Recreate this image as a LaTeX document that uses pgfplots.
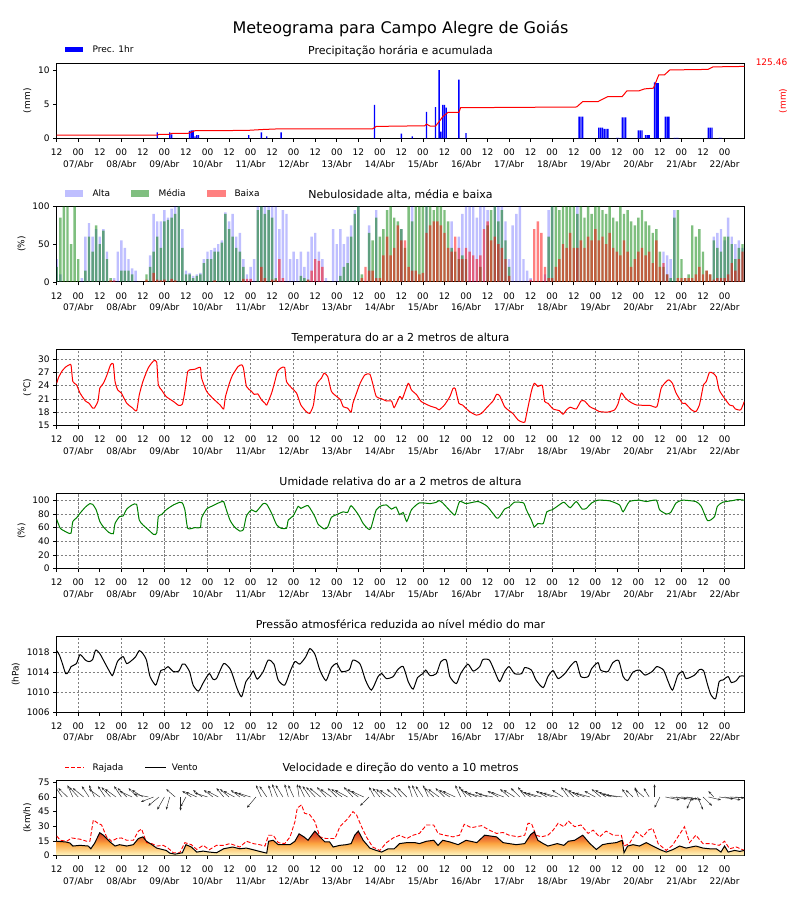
\documentclass[border=0pt]{standalone}
\usepackage{fontspec}
\setmainfont{DejaVu Sans}
\usepackage{pgfplots}
\pgfplotsset{compat=1.18}
\usepackage{pgfplotstable}
\usetikzlibrary{arrows.meta}

\definecolor{cAlta}{RGB}{191,191,255}
\definecolor{cMedia}{RGB}{128,191,128}
\definecolor{cBaixa}{RGB}{255,128,128}
\definecolor{umid}{RGB}{0,128,0}
\definecolor{wTop}{RGB}{210,35,30}
\definecolor{wMid}{RGB}{252,165,65}
\definecolor{wBot}{RGB}{255,248,195}

% hours since 06/Abr 12h
\pgfplotstableread{
h mm
56 0.9
63 0.9
64 0.6
74 1.1
75 1.2
76 1.2
77 0.3
78 0.5
79 0.5
107 0.5
114 0.9
117 0.3
125 0.9
177 4.9
192 0.7
198 0.3
206 3.9
211 4.6
213 10.0
214 1.0
215 4.9
216 4.9
217 4.5
224 8.6
228 0.8
291 3.2
292 3.2
293 3.2
302 1.6
303 1.6
304 1.6
305 1.4
306 1.4
307 1.4
312 0.1
313 0.1
315 3.1
316 3.1
317 3.1
324 1.2
325 1.2
326 1.2
328 0.5
329 0.5
330 0.5
333 8.2
334 8.1
335 8.1
339 3.2
340 3.2
341 3.2
344 0.1
345 0.1
346 0.1
363 1.6
364 1.6
365 1.6
369 0.1
370 0.1
}\prec

\pgfplotstableread{
h acc
0 0
56 0
57 1.1
63 1.5
64 3.0
73 3.0
77 7.9
106 8.5
115 10.2
125 11.5
176 11.5
178 15.8
205 17.0
206 20.0
208 16.4
211 16.4
213.7 27.5
215 33.6
218 41.5
224 41.5
225 50.0
289.6 51.3
293 61.2
301.5 61.2
307 70.4
315 70.4
317.6 80.8
324.3 80.8
327.4 84.4
332.4 85.7
335.4 110.2
338.6 110.2
341.5 119.0
362.7 120.0
365.6 124.6
383 125.46
}\acum

\pgfplotstableread{
h A M B
0 30 20 0
2 10 85 0
4 0 100 0
6 0 100 0
8 0 50 0
10 0 100 0
12 0 30 0
14 5 0 0
16 60 15 0
18 78 60 0
20 60 40 0
22 70 75 0
24 60 50 0
26 70 68 0
28 40 30 0
30 0 5 2
32 5 0 2
34 40 0 0
36 55 15 0
38 45 15 0
40 30 15 0
42 18 10 0
44 15 0 0
46 0 0 0
48 0 0 0
50 0 10 3
52 35 20 0
54 90 40 12
56 80 60 3
58 80 45 2
60 95 80 3
62 85 82 0
64 97 85 4
66 100 90 2
68 100 100 0
70 70 45 0
72 15 10 0
74 12 10 0
76 8 5 0
78 10 8 0
80 12 10 0
82 30 25 0
84 40 30 0
86 42 30 0
88 45 40 2
90 50 40 0
92 55 52 0
94 92 90 0
96 80 70 0
98 90 60 0
100 60 45 0
102 65 40 0
104 30 20 4
106 10 0 4
108 20 0 4
110 30 0 0
112 100 95 0
114 100 100 20
116 100 90 5
118 100 95 0
120 100 85 3
122 100 5 3
124 70 0 30
126 95 0 5
128 90 0 0
130 30 0 0
132 40 0 0
134 30 0 0
136 40 8 0
138 20 5 0
140 40 3 3
142 60 0 15
144 65 0 30
146 40 0 28
148 30 0 20
150 5 0 0
152 0 0 0
154 70 0 0
156 50 0 0
158 70 8 0
160 50 20 0
162 60 25 0
164 75 60 0
166 95 90 0
168 100 100 0
170 0 10 5
172 0 0 20
174 75 65 15
176 0 55 15
178 95 85 5
180 0 60 5
182 0 70 35
184 0 95 60
186 0 100 35
188 0 85 45
190 0 80 75
192 70 70 55
194 0 45 55
196 0 100 20
198 100 80 15
200 0 100 15
202 0 100 10
204 0 100 12
206 100 100 65
208 0 100 75
210 0 95 80
212 0 100 80
214 0 100 75
216 0 95 65
218 0 80 45
220 80 45 40
222 0 40 60
224 60 30 45
226 90 35 30
228 100 30 45
230 100 0 40
232 100 0 35
234 85 0 30
236 100 20 35
238 100 0 70
240 95 75 80
242 0 95 55
244 100 100 60
246 100 80 50
248 100 95 45
250 80 55 30
252 30 20 8
254 75 0 0
256 90 0 0
258 100 0 0
260 30 0 0
262 15 0 0
264 5 0 3
266 0 0 70
268 0 0 80
270 0 0 65
272 10 0 20
274 95 60 5
276 100 100 5
278 0 100 20
280 0 95 30
282 0 100 50
284 0 100 45
286 0 100 65
288 0 100 45
290 100 90 45
292 0 100 55
294 0 85 45
296 0 100 60
298 0 90 55
300 0 100 70
302 0 100 55
304 0 95 60
306 0 90 50
308 0 100 65
310 0 85 45
312 0 80 40
314 0 100 35
316 0 90 55
318 0 95 40
320 0 80 20
322 0 75 30
324 0 85 40
326 0 95 45
328 0 80 35
330 0 75 40
332 0 65 25
334 0 70 55
336 0 40 20
338 40 20 25
340 35 10 10
342 30 5 0
344 95 85 0
346 0 95 5
348 0 30 5
350 0 5 5
352 0 10 5
354 0 75 5
356 0 60 10
358 0 70 20
360 0 40 10
362 0 15 15
364 0 10 10
366 60 55 3
368 65 45 5
370 70 40 5
372 55 60 5
374 85 60 10
376 60 50 25
378 50 30 15
380 55 45 30
382 45 50 40
}\nuvem

\pgfplotstableread{
h T
0 24.5
1 25.8
3 27.3
5 28.2
7 28.7
8 28.6
9 24.9
11 24.2
13 22.3
16 20.5
18 20.0
20 18.9
21 18.9
23 20.5
24 23.4
26 24.5
28 26.4
30 28.7
31.5 28.9
32.5 24.9
34 23.0
36 22.3
39 20.0
42 19.0
44.5 18.3
46 21.9
48 24.9
51 28.0
54 29.6
55.7 29.3
56.6 24.2
58.4 23.0
61 21.5
65 20.4
68 19.5
70 19.8
71.4 22.7
73 27.2
75 27.6
77 27.7
80 28.1
80.7 25.7
83.5 22.7
87 21.1
91 19.6
93 18.7
94 21.5
96.5 24.9
98 26.4
101 28.3
103 28.7
104 28.0
105.7 23.8
108.5 22.7
110 22.0
112 22.1
114 20.8
116 20.0
117 19.6
119.7 22.3
121.5 24.9
123 27.2
125 28.0
127 28.1
128 24.9
131 23.4
133.6 22.3
136 19.6
139 18.1
141 17.7
143 19.6
144.7 24.2
147.5 25.7
149 26.8
151 26.0
153 22.7
156 21.5
158 20.8
159.6 19.2
162 18.9
164 18.0
165 20.0
167 22.3
169 24.5
171.6 26.4
174.4 26.6
176 24.5
178 21.5
181 21.0
183.7 20.5
186.5 20.5
188 19.0
191 21.5
192.6 21.1
195.8 24.5
197.6 23.0
200.5 21.9
203 20.4
207.8 19.4
211.5 18.9
213 18.5
216 19.6
219 21.5
220.7 23.3
222 23.3
224 20.0
226 19.6
230 18.1
233.8 17.3
236.6 17.7
240 19.2
243 20.5
245 22.0
246.7 21.7
249.5 19.2
252 18.3
254 17.7
257 16.2
258.8 15.8
260.7 15.7
261.6 17.3
264.4 22.7
266 24.5
268 23.8
270.5 24.0
271.8 20.4
273.6 20.0
276.5 18.7
280 18.3
282 17.5
284 18.5
286 19.1
289.4 18.7
292 20.5
294 20.5
297 19.2
299.6 18.7
302.4 18.1
307 18.0
310.8 18.5
312.6 19.8
314.5 22.3
316.5 21.3
319 20.4
323 19.6
330.4 19.5
334.3 19.2
336.7 23.4
339.5 24.9
341 25.3
343 24.5
345 22.3
348.5 20.0
350 20.0
353.6 18.5
356 18.1
358 19.6
360.3 24.2
361.8 24.9
363.6 27.0
365.5 26.8
367.4 26.0
369 23.0
372 21.1
374.8 19.6
376.7 19.4
378 18.7
381 18.5
383 20.4
}\temp

\pgfplotstableread{
h U
0 72
2 59
5 54
6.5 52
8 52
9 69
11 74
13 81
16 90
18.5 95
20 94
22 86
24 69
26 61
29 53
31.5 51
32.5 66
35 76
37 77
39 87
42 93
44.5 94
46 71
48 64
51 57
54 50
55.7 52
56.6 76
58.4 79
61 86
65 93
68.6 97
70 96
71.4 86
73 59
77 60
80 60
80.7 74
83.5 87
87 92
91 97
93 98
94 90
96.5 71
99 61
102 55
104 57
105.7 77
108.5 86
111 83
115 95
117 94
119.7 81
122.5 64
125 59
128 59
129 71
131.7 77
134.5 91
136 88
140 92
143.8 76
145.6 65
149 58
151 61
153 75
156 79
159.6 83
162 82
164 92
168 79
170.7 66
173.5 58
175 59
178 86
181 92
183.7 93
186.5 87
189 90
191 79
193 82
195 69
197.6 86
202 96
208 95
211.5 97
213 99.5
215 96
220.7 80
222 79
224.4 98
228 95
234.7 98
239.8 91
245 74
246.7 76
249.5 87
252 90
255 97
260 96
261.6 86
264.4 71
266 61
268 66
271 66
273 83
276 86
278.8 91
282.5 97
286 89
289.4 98
292.7 87
295 88
298 96
301.5 100
308 99
313.5 93
315.5 83
319 98
324.6 100
328.4 98
334 100
335.8 86
339.5 80
342 82
345 96
348.7 100
356 98
359 91
362.6 70
366.4 76
368 91
371 97
376.7 99.5
379.5 101
383 100
}\umid

\pgfplotstableread{
h P
0 1018.3
1.5 1017.4
3 1015.9
5 1013.7
6.5 1014.0
8 1015.1
11 1015.7
13 1017.5
16 1016.4
18 1016.1
20 1016.5
21.7 1018.4
24 1017.7
26 1016.4
29 1014.4
31 1013.3
32.5 1014.7
34 1016.2
37 1017.1
39 1015.7
42 1016.4
44 1017.1
46 1018.3
48 1017.7
50 1016.4
52 1013.1
55 1011.4
56 1012.1
58 1014.3
60 1014.5
62 1015.1
65 1014.1
68 1014.2
70 1015.6
71.4 1015.6
74 1014.1
76 1011.4
79 1010.2
82 1012.1
85 1013.7
87 1012.6
89 1012.7
93 1015.7
96.5 1014.7
98 1013.4
100.5 1010.7
103 1009.1
105.4 1012.1
107.6 1013.1
109.5 1014.2
111.7 1012.6
115 1014.1
117.8 1016.4
121 1015.6
123.4 1012.4
127 1011.4
130 1014.1
132.7 1016.1
135.4 1015.6
138.8 1017.1
141 1018.7
143.8 1017.6
146.6 1014.4
150 1012.3
153 1014.9
156 1015.7
158.6 1014.1
163 1014.5
165 1016.4
169 1015.6
172 1012.4
175.3 1010.4
179 1013.1
181 1013.7
183.7 1012.7
187.4 1013.1
190 1014.5
193 1015.1
195.8 1012.1
198.5 1010.6
201 1012.9
204 1013.7
205.6 1014.4
208 1013.3
211.5 1013.7
214 1016.1
217 1016.4
219 1013.1
222.6 1011.7
225 1013.7
229 1015.6
232 1014.2
235.6 1015.1
237.4 1016.5
241 1016.4
244 1014.1
246.7 1012.1
249.5 1014.1
252 1015.1
255 1013.7
259 1013.7
260.7 1014.9
264.4 1014.4
267 1012.4
271 1010.9
273.6 1013.1
276.5 1014.3
279.3 1012.7
283 1013.7
286.6 1015.4
289.4 1016.1
292 1013.1
296 1013.1
298 1014.7
301.5 1015.9
303 1014.4
307 1014.1
309.8 1015.9
313 1016.3
315.5 1013.1
318 1012.3
321 1014.0
324.6 1014.4
327.7 1013.4
331.6 1014.1
334.3 1015.1
338 1014.4
340.6 1012.1
343 1010.4
346 1013.4
348.7 1014.1
350.6 1012.7
355.3 1013.4
358 1014.5
360.3 1014.3
362.6 1011.4
364.5 1009.4
367 1008.7
369 1012.1
371 1012.4
374 1013.1
375.8 1011.9
378.6 1012.3
380.5 1013.2
383 1013.2
}\pres

\pgfplotstableread{
h w
0 14.6
5 13.9
7.4 12.8
9 9.7
13 10.4
17.6 9.7
19 6.9
21 12.2
24 23.3
26 20.8
29.7 13.9
32.5 9.7
35 11.1
39 9.7
42.7 11.1
45.5 17.4
48 19.1
50 14.6
53 11.1
55.7 7.6
59.4 5.9
61 5.2
63 2.4
66 1.4
70 2.8
72 11.1
75 8.7
78 3.5
81.6 4.5
85 3.5
89 2.8
93 6.9
98 8.7
102 6.9
105.7 7.6
109.5 5.9
113 4.2
117 2.4
118 14.6
120.6 15.6
123.4 11.1
127 11.1
130 11.1
132.7 14.6
135 22.2
137.7 19.1
140 15.6
143.8 25.0
146.6 19.1
149.4 13.9
152 13.9
154 8.7
157.7 10.4
161.4 11.1
164 12.2
166 20.8
168 25.0
170.7 15.6
174.4 7.6
178 5.2
181 3.5
184.6 6.9
188 6.9
191 12.2
195 13.2
199.5 13.2
202 12.2
206 14.6
210 15.6
212.4 10.4
215 15.6
219 13.9
223.6 11.1
228 15.6
234 13.2
238.4 20.8
245 19.1
248.6 13.2
252 12.2
256 11.1
260.7 12.2
264 21.5
266 24.3
268 15.6
271 12.2
273.6 9.7
278.8 12.2
282.5 10.4
285 14.6
288.5 15.6
293 20.8
297 12.2
300.6 6.2
304 11.1
307 12.2
311.7 13.2
315 15.6
316 2.8
318 9.7
321 11.1
324.6 9.7
328.4 13.2
332 9.7
335.8 6.2
339.5 3.5
343 5.9
347 9.7
350.6 7.6
356 9.7
360 7.6
363.6 6.9
367.4 6.9
370 3.5
372 9.7
374 3.5
377.6 5.2
380.5 4.2
383 5.2
}\vento

\pgfplotstableread{
h g
0 20.0
2 15.6
5.6 14.6
8.3 18.0
13 16.7
16.7 14.6
18.5 14.6
20.4 36.5
23 33.0
25 31.3
27.8 19.1
30.6 14.6
33.4 17.4
36 18.0
39 15.6
42.7 15.6
45.5 25.0
47.3 27.1
50 13.2
53 12.2
55.7 9.7
59.4 10.4
62 7.6
65 2.8
68.6 2.8
71.4 13.2
75 11.1
78 6.2
81.6 10.4
85 5.9
89 10.4
93 10.4
96.5 12.2
102 8.7
105.7 14.6
109.5 12.2
113 11.1
116 9.7
118 20.8
120.6 20.8
123.4 13.2
127 12.2
130 19.1
132.7 34.7
134 48.6
136.4 52.0
138 43.4
141 41.7
143.8 34.7
146.6 19.1
150 17.4
155 17.4
157.7 29.5
160.5 34.7
162.3 38.2
165 45.0
167 41.7
169.8 29.5
172.5 19.1
176 8.7
180 5.2
183.7 13.2
187.4 18.0
191 20.8
195 17.4
198.5 20.8
202 22.6
206 31.3
210 31.3
212.4 22.6
216 20.8
220.7 19.1
224.4 20.8
227 32.0
231 28.5
236.6 30.6
241 26.0
245 22.6
248.6 23.6
252 20.8
257 19.1
260.7 20.8
262.5 33.0
264.4 33.0
267 20.8
270 19.1
273.6 20.8
276.5 26.0
279.3 33.0
282.5 29.5
285 35.4
288.5 29.5
292 31.3
296 22.6
298.8 26.0
302.4 19.1
306 25.0
310 20.8
314.5 20.8
316 9.7
319 12.2
322.8 24.3
326.5 19.1
329.5 26.0
332 27.8
335 12.2
339.5 5.2
343 10.4
346 19.1
349.7 29.5
352.5 13.2
356 20.8
360 12.2
364.5 12.2
369 10.4
372 14.6
374.8 6.9
378.6 8.7
383 5.2
}\rajada

\pgfplotstableread{
h y u v
0 60 -5 10
3 60 -4 11
6 60 -5 9
9 60 -3 12
12 60 -5 10
15 60 -6 9
18 60 -4 11
21 60 -3 12
24 60 -6 8
27 60 -4 11
30 60 -5 10
33 60 -6 8
36 60 -4 11
39 60 -5 9
42 60 -7 6
45 60 -5 9
48 60 -6 7
51 60 -8 3
54 60 -7 -5
57 60 -6 -9
60 60 -4 -13
63 60 -2 -13
66 60 -5 8
69 60 0 -14
72 60 -3 -10
75 60 -5 6
78 60 -6 5
81 60 -5 7
84 60 -7 4
87 60 -5 7
90 60 -6 6
93 60 -4 9
96 60 -5 8
99 60 -6 6
102 60 -5 7
105 60 -6 5
108 60 -7 4
111 60 -5 -11
114 60 -3 12
117 60 -4 11
120 60 -2 12
123 60 -3 13
126 60 -4 12
129 60 -2 13
132 60 -3 12
135 60 -1 13
138 60 -3 12
141 60 -4 11
144 60 -5 10
147 60 -6 9
150 60 -5 10
153 60 -6 8
156 60 -5 9
159 60 -6 8
162 60 -7 7
165 60 -5 10
168 60 -6 8
171 60 -7 6
174 60 -5 -9
177 60 -3 10
180 60 -4 9
183 60 -5 8
186 60 -6 7
189 60 -5 8
192 60 -4 10
195 60 -5 9
198 60 -2 12
201 60 -3 12
204 60 -4 11
207 60 -3 12
210 60 -5 9
213 60 -6 8
216 60 -5 9
219 60 -6 7
222 60 -7 6
225 60 -3 12
228 60 -4 11
231 60 -6 8
234 60 -7 6
237 60 -8 4
240 60 -7 5
243 60 -8 3
246 60 -6 6
249 60 -7 5
252 60 -5 8
255 60 -6 7
258 60 -5 9
261 60 -4 10
264 60 -6 7
267 60 -7 5
270 60 -8 4
273 60 -6 6
276 60 -7 5
279 60 -8 4
282 60 -6 7
285 60 -4 10
288 60 -5 9
291 60 -6 7
294 60 -7 5
297 60 -8 4
300 60 -6 6
303 60 -5 8
306 60 -6 7
309 60 -7 5
312 60 -8 3
315 60 -9 2
318 60 -3 8
321 60 -4 7
324 60 -2 10
327 60 -5 8
330 60 -3 9
333 60 0 13
336 60 -3 -11
339 60 8 -3
342 60 9 -2
345 60 10 -3
348 60 9 -2
351 60 8 -3
354 60 -3 -12
357 60 3 -13
360 60 5 -9
363 60 7 -3
366 60 -3 6
369 60 8 -2
372 60 9 -3
375 60 8 -1
378 60 10 -2
381 60 7 0
}\dirvento

\pgfplotsset{
  meteo/.style={
    width=687.6pt, height=75.5pt, scale only axis,
    anchor=south west,
    xmin=0, xmax=383,
    xtick={0,12,...,372},
    xticklabels={12,{00\\07/Abr},12,{00\\08/Abr},12,{00\\09/Abr},12,{00\\10/Abr},
      12,{00\\11/Abr},12,{00\\12/Abr},12,{00\\13/Abr},12,{00\\14/Abr},
      12,{00\\15/Abr},12,{00\\16/Abr},12,{00\\17/Abr},12,{00\\18/Abr},
      12,{00\\19/Abr},12,{00\\20/Abr},12,{00\\21/Abr},12,{00\\22/Abr}},
    tick align=outside, xtick pos=left, ytick pos=left,
    major tick length=3.5pt,
    tick style={black, line width=0.6pt},
    axis line style={line width=0.8pt},
    ticklabel style={font=\fontsize{9}{11.5}\selectfont},
    xticklabel style={align=center, yshift=-3.5pt},
    /pgf/number format/assume math mode=true,
    /pgf/number format/1000 sep={},
    title style={font=\fontsize{11}{13}\selectfont, at={(0.5,1)}, anchor=base, yshift=2pt, inner sep=0pt},
    ylabel style={font=\fontsize{9}{11}\selectfont},
  },
  grade/.style={
    ymajorgrids,
    extra x ticks={12,36,...,372},
    extra x tick labels={},
    extra x tick style={xmajorgrids=true, major tick length=0pt},
    major grid style={gray, dash pattern=on 2.5pt off 1.5pt, line width=0.5pt},
  },
}

\begin{document}
\begin{tikzpicture}[x=1pt,y=1pt]
\useasboundingbox (0,0) rectangle (800,900);
\node[font=\fontsize{16}{18}\selectfont, anchor=base] at (400.5,866) {Meteograma para Campo Alegre de Goiás};

% precipitacao
\begin{axis}[meteo, at={(56.7pt,761.5pt)},
  ymin=0, ymax=11.03, ytick={0,5,10},
  ylabel={(mm)}, title={Precipitação horária e acumulada}]
  \addplot[ybar, bar width=0.75, bar shift=0pt, draw=none, fill=blue] table[x=h,y=mm] {\prec};
\end{axis}
\begin{axis}[meteo, at={(56.7pt,761.5pt)}, hide axis,
  ymin=-6.27, ymax=131.73]
  \addplot[red, line width=1pt] table[x=h,y=acc] {\acum};
\end{axis}
\node[red, font=\fontsize{9}{11}\selectfont, anchor=base] at (771.5,834) {125.46};
\node[red, font=\fontsize{9}{11}\selectfont, rotate=90] at (783,799) {(mm)};
\fill[blue] (65,847.7) rectangle (83.3,853.3);
\node[font=\fontsize{9}{11}\selectfont, anchor=base west, inner sep=0pt] at (92.3,847.3) {Prec. 1hr};

% nebulosidade
\begin{axis}[meteo, at={(56.7pt,618.1pt)},
  ymin=0, ymax=100, ytick={0,50,100},
  ylabel={(\%)}, title={Nebulosidade alta, média e baixa}]
  \addplot[ybar, bar width=1.35, bar shift=0pt, draw=none, fill=blue, fill opacity=0.25] table[x=h,y=A] {\nuvem};
  \addplot[ybar, bar width=1.35, bar shift=0pt, draw=none, fill=umid, fill opacity=0.5] table[x=h,y=M] {\nuvem};
  \addplot[ybar, bar width=1.35, bar shift=0pt, draw=none, fill=red, fill opacity=0.5] table[x=h,y=B] {\nuvem};
\end{axis}
\fill[cAlta] (65,703.3) rectangle (83.3,710);
\node[font=\fontsize{9}{11}\selectfont, anchor=base west, inner sep=0pt] at (92.3,703.3) {Alta};
\fill[cMedia] (131,703.3) rectangle (149.3,710);
\node[font=\fontsize{9}{11}\selectfont, anchor=base west, inner sep=0pt] at (158.3,703.3) {Média};
\fill[cBaixa] (206.7,703.3) rectangle (225.7,710);
\node[font=\fontsize{9}{11}\selectfont, anchor=base west, inner sep=0pt] at (234.3,703.3) {Baixa};

% temperatura
\begin{axis}[meteo, grade, at={(56.7pt,474.7pt)},
  ymin=15, ymax=32.1, ytick={15,18,...,30},
  ylabel={(°C)}, title={Temperatura do ar a 2 metros de altura}]
  \addplot[red, line width=1pt, smooth, tension=0.35] table[x=h,y=T] {\temp};
\end{axis}

% umidade
\begin{axis}[meteo, grade, at={(56.7pt,331.3pt)},
  ymin=0, ymax=110.2, ytick={0,20,...,100},
  ylabel={(\%)}, title={Umidade relativa do ar a 2 metros de altura}]
  \addplot[umid, line width=1pt, smooth, tension=0.35] table[x=h,y=U] {\umid};
\end{axis}

% pressao
\begin{axis}[meteo, grade, at={(56.7pt,187.9pt)},
  ymin=1006, ymax=1021.1, ytick={1006,1010,1014,1018},
  ylabel={(hPa)}, title={Pressão atmosférica reduzida ao nível médio do mar}]
  \addplot[black, line width=1pt, smooth, tension=0.4] table[x=h,y=P] {\pres};
\end{axis}

% vento
\begin{axis}[meteo, at={(56.7pt,44.5pt)},
  ymin=0, ymax=77.4, ytick={0,15,...,75},
  ylabel={(km/h)}, title={Velocidade e direção do vento a 10 metros}]
  \addplot[draw=none, top color=wTop, bottom color=wBot, middle color=wMid] table[x=h,y=w] {\vento} \closedcycle;
  \addplot[red, dash pattern=on 4pt off 2pt, line width=0.9pt] table[x=h,y=g] {\rajada};
  \addplot[black, line width=1pt] table[x=h,y=w] {\vento};
  \addplot[black!85, line width=0.45pt, -{Stealth[length=3pt,width=2.4pt]},
    quiver={u=\thisrow{u}, v=\thisrow{v}}] table[x=h,y=y] {\dirvento};
\end{axis}
\draw[red, dash pattern=on 4pt off 2pt, line width=0.9pt] (65,132.3) -- (83.3,132.3);
\node[font=\fontsize{9}{11}\selectfont, anchor=base west, inner sep=0pt] at (92.3,129) {Rajada};
\draw[black, line width=1pt] (145,132.3) -- (165.7,132.3);
\node[font=\fontsize{9}{11}\selectfont, anchor=base west, inner sep=0pt] at (171.7,129) {Vento};
\end{tikzpicture}
\end{document}
